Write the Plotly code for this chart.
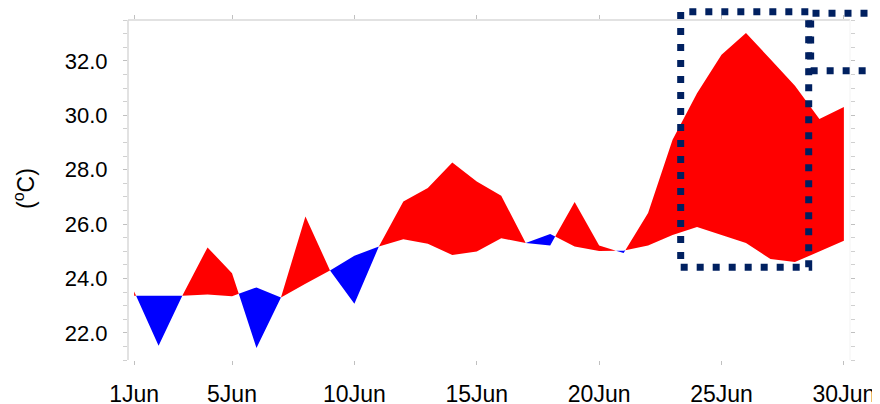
import plotly.graph_objects as go

# ---- data ----
days = list(range(1, 31))
observed = [23.52, 21.52, 23.42, 25.14, 24.19, 21.44, 23.30, 26.28, 24.30, 23.07,
            25.17, 26.83, 27.32, 28.26, 27.56, 27.04, 25.30, 25.21, 26.81, 25.21,
            24.93, 26.40, 29.10, 30.81, 32.22, 33.02, 32.06, 31.08, 29.86, 30.30]
climatology = [23.36, 23.36, 23.36, 23.41, 23.34, 23.67, 23.30, 23.80, 24.29, 24.83,
               25.17, 25.44, 25.27, 24.86, 24.99, 25.48, 25.30, 25.63, 25.17, 25.01,
               25.02, 25.21, 25.60, 25.89, 25.60, 25.30, 24.71, 24.60, 24.99, 25.38]
tick_days = [1, 5, 10, 15, 20, 25, 30]
tick_text = ["1Jun", "5Jun", "10Jun", "15Jun", "20Jun", "25Jun", "30Jun"]
y_ticks = [22, 24, 26, 28, 30, 32]
y_ticktext = ["22.0", "24.0", "26.0", "28.0", "30.0", "32.0"]

# ---- build filled polygons between the two series, split at crossings ----
def build_regions(x, a, b):
    regions = []
    cur = None
    for i in range(len(x) - 1):
        x0, x1 = x[i], x[i + 1]
        a0, a1, b0, b1 = a[i], a[i + 1], b[i], b[i + 1]
        d0, d1 = a0 - b0, a1 - b1
        pieces = []
        if d0 * d1 < 0:
            t = d0 / (d0 - d1)
            xc = x0 + t * (x1 - x0)
            yc = a0 + t * (a1 - a0)
            pieces.append((1 if d0 > 0 else -1, (x0, a0, b0), (xc, yc, yc)))
            pieces.append((1 if d1 > 0 else -1, (xc, yc, yc), (x1, a1, b1)))
        else:
            s = 1 if (d0 + d1) >= 0 else -1
            pieces.append((s, (x0, a0, b0), (x1, a1, b1)))
        for s, p, q in pieces:
            if cur is None or cur[0] != s:
                if cur is not None:
                    regions.append(cur)
                cur = [s, [p]]
            cur[1].append(q)
    if cur is not None:
        regions.append(cur)
    out = {1: ([], []), -1: ([], [])}
    for s, pts in regions:
        xs = [p[0] for p in pts] + [p[0] for p in reversed(pts)]
        ys = [p[1] for p in pts] + [p[2] for p in reversed(pts)]
        out[s][0].extend(xs + [xs[0], None])
        out[s][1].extend(ys + [ys[0], None])
    return out

reg = build_regions(days, observed, climatology)

fig = go.Figure()
fig.add_trace(go.Scatter(x=reg[1][0], y=reg[1][1], mode="lines", fill="toself",
                         fillcolor="#FF0000", line=dict(width=0, color="#FF0000"),
                         hoverinfo="skip", showlegend=False))
fig.add_trace(go.Scatter(x=reg[-1][0], y=reg[-1][1], mode="lines", fill="toself",
                         fillcolor="#0000FF", line=dict(width=0, color="#0000FF"),
                         hoverinfo="skip", showlegend=False))

fam = "Liberation Sans, Arial, sans-serif"

fig.update_layout(
    width=880, height=404,
    margin=dict(l=120, r=38, t=12, b=52, autoexpand=False),
    paper_bgcolor="white", plot_bgcolor="white",
    showlegend=False,
    xaxis=dict(range=[0.75, 30.25], tickmode="array", tickvals=tick_days, ticktext=tick_text,
               showgrid=False, zeroline=False, showline=False, mirror="ticks",
               ticks="outside", ticklen=4, tickcolor="#c0c0c0", tickwidth=1,
               tickfont=dict(family=fam, size=23, color="#000"), ticklabelstandoff=9,
               automargin=False),
    yaxis=dict(range=[21, 33.5], tickmode="array", tickvals=y_ticks, ticktext=y_ticktext,
               showgrid=False, zeroline=False, showline=False, mirror="ticks",
               ticks="outside", ticklen=4, tickcolor="#c0c0c0", tickwidth=1,
               minor=dict(dtick=0.5, tick0=21, ticks="outside", ticklen=4,
                          tickcolor="#d0d0d0", showgrid=False),
               tickfont=dict(family=fam, size=22, color="#000"), ticklabelstandoff=11,
               automargin=False),
    annotations=[dict(text="(<sup>o</sup>C)", xref="paper", yref="paper",
                      x=-0.144, y=0.503, xanchor="center", yanchor="middle",
                      textangle=-90, showarrow=False,
                      font=dict(family=fam, size=23, color="#000"))],
    shapes=[
        dict(type="line", xref="paper", yref="paper", x0=0, x1=0, y0=0, y1=1,
             line=dict(color="#d9d9d9", width=1.5)),
        dict(type="line", xref="paper", yref="paper", x0=0, x1=1, y0=1, y1=1,
             line=dict(color="#d9d9d9", width=1.5)),
        dict(type="line", xref="paper", yref="paper", x0=1, x1=1, y0=0, y1=1,
             line=dict(color="#f3f3f3", width=1)),
        dict(type="rect", xref="paper", yref="paper", x0=0.7655, x1=0.9428, y0=0.2726, y1=1.0244,
             line=dict(color="#002060", width=7, dash="7px,9px")),
        dict(type="rect", xref="paper", yref="paper", x0=0.9455, x1=1.2, y0=0.851, y1=1.0197,
             line=dict(color="#002060", width=7, dash="7px,9px")),
    ],
)

fig.write_html("out.html")
